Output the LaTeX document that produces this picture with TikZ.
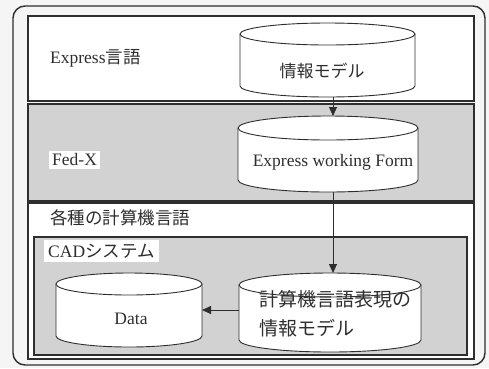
\documentclass[tikz,border=0pt]{standalone}
\usepackage{fontspec}
\setmainfont{Liberation Serif}
\newfontfamily\jp{Noto Sans CJK JP}
\usetikzlibrary{arrows.meta}
\definecolor{ink}{HTML}{2E2E2E}
\definecolor{shade}{HTML}{D2D2D2}
\newcommand{\cylshape}[6]{% x1 x2 ytop ybot ry fill
  \pgfmathsetmacro{\cxx}{(#1+#2)/2}
  \pgfmathsetmacro{\rxx}{(#2-#1)/2}
  \fill[white] (#1,-#3-#5) rectangle (#2,-#4+#5);
  \fill[white] (\cxx,-#4+#5) ellipse[x radius=\rxx, y radius=#5];
  \draw[cylline] (#1,-#3-#5) -- (#1,-#4+#5) arc[start angle=180,end angle=360,x radius=\rxx,y radius=#5] -- (#2,-#3-#5);
  \draw[cylline,fill=white] (\cxx,-#3-#5) ellipse[x radius=\rxx, y radius=#5];
}
\tikzset{
  band/.style={draw=ink, line width=1.4pt},
  cylline/.style={draw=ink, line width=0.9pt},
  lat/.style={font=\fontsize{17.5}{20}\selectfont, text=ink, inner sep=0pt},
  lab/.style={lat, anchor=west},
  whitelab/.style={lab, fill=white, inner sep=3pt},
  conn/.style={draw=ink, line width=0.8pt, -{Triangle[length=9pt,width=8pt]}},
}
\begin{document}
\begin{tikzpicture}[x=1pt,y=1pt]
\useasboundingbox (0,0) rectangle (489,-368);
\fill[white!96!black] (0,0) rectangle (489,-368);
% outer frame
\draw[ink, line width=1.4pt, rounded corners=12pt] (13,-6) rectangle (485,-365);
% bands
\draw[band, fill=white] (28,-16) rectangle (474,-101);
\draw[band, fill=shade] (28,-104) rectangle (474,-201);
\draw[band, fill=white] (28,-203) rectangle (474,-359);
\draw[band, fill=shade] (34,-237) rectangle (467,-355);
% labels
\node[lab] (lexp) at (50,-58) {Express{\jp 言語}};
\node[whitelab] (lfed) at (49,-160) {Fed-X};
\node[lab] (lvar) at (50,-218) {\jp 各種の計算機言語};
\node[whitelab, inner sep=4pt] (lcad) at (44,-251) {CAD{\jp\fontsize{17.5}{20}\selectfont システム}};
% cylinders
\cylshape{240}{415}{23}{97}{11}{white}
\node[lat] (c1) at (322,-71) {\jp\fontsize{17}{20}\selectfont 情報モデル};
\cylshape{238}{418}{116}{192}{12}{white}
\node[lat] (c2) at (333,-162) {Express working Form};
\cylshape{239}{421}{273}{352}{12}{white}
\node[lat, anchor=north west, align=left, font=\jp\fontsize{19}{29}\selectfont] (c3) at (259,-290) {計算機言語表現の\\情報モデル};
\cylshape{56}{202}{273}{347}{11}{white}
\node[lat] (c4) at (131,-319) {Data};
% connector points
\coordinate (c1b) at (333,-97);
\coordinate (c2t) at (333,-116);
\coordinate (c2b) at (333,-192);
\coordinate (c3t) at (333,-273);
\coordinate (c3l) at (239,-310);
\coordinate (c4r) at (202,-310);
\draw[conn] (c1b) -- (c2t);
\draw[conn] (c2b) -- (c3t);
\draw[conn] (c3l) -- (c4r);
\end{tikzpicture}
\end{document}
